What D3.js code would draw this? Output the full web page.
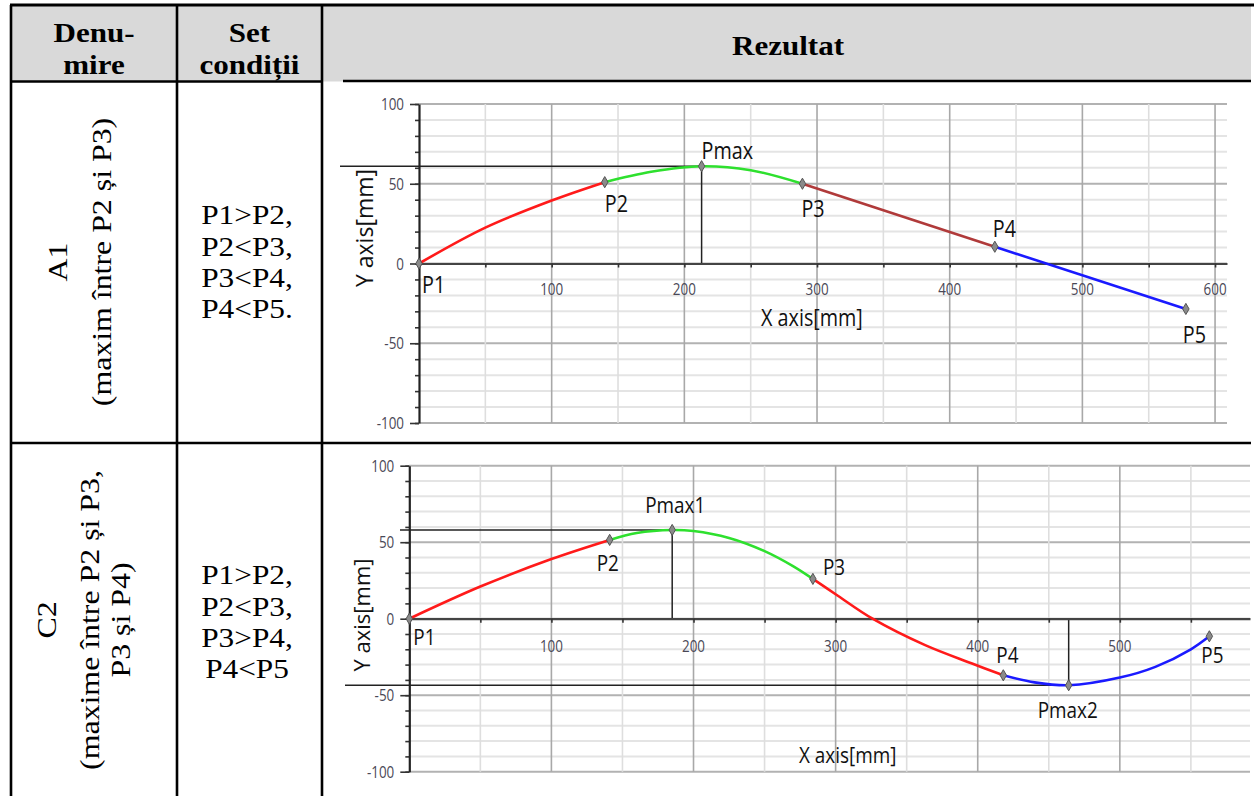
<!DOCTYPE html>
<html><head><meta charset="utf-8">
<script src="https://cdn.jsdelivr.net/npm/d3@7"></script>
<style>html,body{margin:0;padding:0;background:#fff;}svg{display:block}</style>
</head><body>
<svg id="c" width="1254" height="796"></svg>
<script>
// ---------------- data ----------------
const headerCol1 = ["Denu-", "mire"];
const headerCol2 = ["Set", "condiții"];
const headerCol3 = ["Rezultat"];
const rowNames = [["A1", "(maxim între P2 și P3)"], ["C2", "(maxime între P2 și P3,", "P3 și P4)"]];
const rowConditions = [["P1>P2,", "P2<P3,", "P3<P4,", "P4<P5."], ["P1>P2,", "P2<P3,", "P3>P4,", "P4<P5"]];

const yTickLabels = [-100, -50, 0, 50, 100];
const a1XTickLabels = [100, 200, 300, 400, 500, 600];
const c2XTickLabels = [100, 200, 300, 400, 500];
const xAxisTitle = "X axis[mm]";
const yAxisTitle = "Y axis[mm]";

// chart A1 segments [x, y]
const a1Red = [[0, 0], [50, 22.5], [100, 39.5], [140, 51]];
const a1Green = [[140, 51], [175, 57.5], [213, 61], [250, 58.5], [289, 50]];
const a1Brown = [[289, 50], [434, 10.5]];
const a1Blue = [[434, 10.5], [578, -28.5]];
const a1PointNames = ["P1", "P2", "Pmax", "P3", "P4", "P5"];
const a1PointX = [0, 140, 213, 289, 434, 578];
const a1PointY = [0, 51, 61, 50, 10.5, -28.5];

// chart C2 segments [x, y]
const c2Red1 = [[0, 0], [50, 21], [100, 39], [141, 51.5]];
const c2Green = [[141, 51.5], [160, 56], [185, 58], [200, 57.3], [225, 52.8], [250, 44.2], [270, 34.4], [284, 26]];
const c2Red2 = [[284, 26], [300, 16], [326, 0], [363, -17.3], [396, -29.3], [418, -37]];
const c2Blue = [[418, -37], [440, -41.6], [464, -43.5], [500, -38.5], [525, -31.5], [550, -20], [563, -11.5]];
const c2PointNames = ["P1", "P2", "Pmax1", "P3", "P4", "Pmax2", "P5"];
const c2PointX = [0, 141, 185, 284, 418, 464, 563];
const c2PointY = [0, 51.5, 58, 26, -37, -43.5, -11.5];

// ---------------- layout / style ----------------
const svg = d3.select("#c");
const SERIF = "'Liberation Serif','Times New Roman',serif";
const SANS = "'Open Sans','Noto Sans',sans-serif";
const C = { red: "#ff1a1a", green: "#2ee02e", brown: "#b03a3a", blue: "#1a1aff" };

function txt(g, s, x, y, o) {
  return g.append("text").text(s)
    .attr("transform", `translate(${x},${y})` + (o.rot ? ` rotate(${o.rot})` : "") + ` scale(${o.sx || 1},1)`)
    .attr("font-family", o.family).attr("font-size", o.size)
    .attr("font-weight", o.weight || "normal")
    .attr("text-anchor", o.anchor || "start")
    .attr("fill", o.fill || "#000");
}

// ---------------- table ----------------
const T = { left: 11, c1: 177, c2: 322, right: 1251, top: 5, head: 81.5, row: 443, bottom: 796 };
svg.append("rect").attr("x", T.left).attr("y", T.top).attr("width", T.right - T.left).attr("height", T.head - T.top).attr("fill", "#d9d9d9");

const serifH = { family: SERIF, size: 27, sx: 1.15, weight: "bold", anchor: "middle" };
const cx1 = (T.left + T.c1) / 2, cx2 = (T.c1 + T.c2) / 2;
txt(svg, headerCol1[0], cx1, 42, serifH);
txt(svg, headerCol1[1], cx1, 74, serifH);
txt(svg, headerCol2[0], cx2, 42, serifH);
txt(svg, headerCol2[1], cx2, 74, serifH);
txt(svg, headerCol3[0], 788, 55, serifH);

const serifN = { family: SERIF, size: 27, sx: 1.16, anchor: "middle" };
const condBase = [[224, 256, 287, 318], [584, 616, 647, 678]];
rowConditions.forEach((lines, r) => lines.forEach((s, i) => txt(svg, s, 247, condBase[r][i], serifN)));

const nameBase = [[67, 111], [56, 99, 130]];
const nameCy = [262, 620];
rowNames.forEach((lines, r) => lines.forEach((s, i) =>
  txt(svg, s, nameBase[r][i], nameCy[r], Object.assign({ rot: -90 }, serifN, { sx: 1.18 }))));

// ---------------- charts ----------------
function drawChart(cfg) {
  const g = svg.append("g");
  const x = d3.scaleLinear().domain([0, cfg.xMax]).range([cfg.x0, cfg.x1]);
  const y = d3.scaleLinear().domain([-100, 100]).range([cfg.yBot, cfg.yTop]);
  const xr = [x(0), x(cfg.xMax)];
  // horizontal grid
  d3.range(-100, 101, 10).forEach(v => {
    const major = v % 50 === 0;
    g.append("line").attr("x1", xr[0]).attr("x2", xr[1]).attr("y1", y(v)).attr("y2", y(v))
      .attr("stroke", major ? "#b2b2b2" : "#e4e4e4").attr("stroke-width", 2);
  });
  // vertical grid
  d3.range(50, cfg.xMax, 50).forEach(v => {
    const major = v % 100 === 0;
    g.append("line").attr("x1", x(v)).attr("x2", x(v)).attr("y1", y(100)).attr("y2", y(-100))
      .attr("stroke", major ? "#a8a8a8" : "#dedede").attr("stroke-width", 1.6);
  });
  // reference lines to maxima
  cfg.refs.forEach(r => {
    g.append("line").attr("x1", r.hx).attr("x2", x(r.x)).attr("y1", y(r.y)).attr("y2", y(r.y))
      .attr("stroke", "#222").attr("stroke-width", 1.5);
    g.append("line").attr("x1", x(r.x)).attr("x2", x(r.x)).attr("y1", y(0)).attr("y2", y(r.y))
      .attr("stroke", "#222").attr("stroke-width", 1.5);
  });
  // axes
  const ya = g.append("g").attr("transform", `translate(${x(0)},0)`);
  ya.call(d3.axisLeft(y).tickValues(d3.range(-100, 101, 10)).tickSize(4).tickFormat(""));
  ya.call(g2 => g2.selectAll(".domain").remove());
  const ya2 = g.append("g").attr("transform", `translate(${x(0)},0)`);
  ya2.call(d3.axisLeft(y).tickValues(yTickLabels).tickSize(9).tickFormat("").tickSizeOuter(0));
  g.selectAll(".tick line").attr("stroke", "#333").attr("stroke-width", 1.6);
  ya2.select(".domain").attr("stroke", "#222").attr("stroke-width", 2.2);
  const xa = g.append("g").attr("transform", `translate(0,${y(0)})`);
  xa.call(d3.axisBottom(x).tickValues(d3.range(50, cfg.xMax, 50)).tickSize(4).tickFormat("").tickSizeOuter(0));
  xa.selectAll(".tick line").attr("stroke", "#333").attr("stroke-width", 1.6);
  xa.select(".domain").attr("stroke", "#444").attr("stroke-width", 2.2);
  // tick labels
  const tk = { family: SANS, size: 16, sx: 0.84, fill: "#4a4856" };
  yTickLabels.forEach(v => txt(g, v, x(0) - 15, y(v) + 6, Object.assign({ anchor: "end" }, tk)));
  cfg.xTicks.forEach(v => txt(g, v, x(v), y(0) + cfg.xLabDy, Object.assign({ anchor: "middle" }, tk)));
  // curves
  const line = d3.line().x(d => x(d[0])).y(d => y(d[1])).curve(d3.curveCatmullRom.alpha(0.5));
  cfg.segs.forEach(s => g.append("path").attr("d", line(s.data)).attr("fill", "none")
    .attr("stroke", s.color).attr("stroke-width", 2.6).attr("stroke-linejoin", "round"));
  // markers + labels
  const sym = d3.symbol().type(d3.symbolDiamond).size(36);
  const lab = { family: SANS, size: cfg.labSize, sx: 0.86, fill: "#111" };
  cfg.names.forEach((n, i) => {
    const px = x(cfg.px[i]), py = y(cfg.py[i]);
    g.append("path").attr("d", sym()).attr("transform", `translate(${px},${py})`)
      .attr("fill", "#8a8a8a").attr("stroke", "#555").attr("stroke-width", 1);
    const off = cfg.labOff[i];
    txt(g, n, px + off[0], py + off[1], lab);
  });
  // axis titles
  txt(g, xAxisTitle, cfg.xTitle[0], cfg.xTitle[1], lab);
  txt(g, yAxisTitle, cfg.yTitle[0], cfg.yTitle[1], Object.assign({}, lab, { rot: -90, sx: 1, anchor: "middle" }));
}

drawChart({
  xMax: 609, x0: 419, x1: 1227, yTop: 104, yBot: 423, xTicks: a1XTickLabels, xLabDy: 31.5, labSize: 23,
  segs: [{ data: a1Red, color: C.red }, { data: a1Green, color: C.green }, { data: a1Brown, color: C.brown }, { data: a1Blue, color: C.blue }],
  names: a1PointNames, px: a1PointX, py: a1PointY,
  labOff: [[3, 29.5], [0, 30], [0, -7], [-1, 33], [-2, -10], [-3, 34]],
  refs: [{ x: a1PointX[2], y: a1PointY[2], hx: 340 }],
  xTitle: [761, 326], yTitle: [373, 228]
});
drawChart({
  xMax: 591.6, x0: 409.3, x1: 1250, yTop: 465.7, yBot: 771.7, xTicks: c2XTickLabels, xLabDy: 33.5, labSize: 22,
  segs: [{ data: c2Red1, color: C.red }, { data: c2Green, color: C.green }, { data: c2Red2, color: C.red }, { data: c2Blue, color: C.blue }],
  names: c2PointNames, px: c2PointX, py: c2PointY,
  labOff: [[4, 26.5], [-13, 31], [-27, -17], [10, -4], [-7, -12], [-31, 33], [-8, 27]],
  refs: [{ x: c2PointX[2], y: c2PointY[2], hx: 400 }, { x: c2PointX[5], y: c2PointY[5], hx: 345 }],
  xTitle: [799, 763], yTitle: [370, 615]
});

// table borders (on top)
const bl = (x1, y1, x2, y2, w) => svg.append("line").attr("x1", x1).attr("y1", y1).attr("x2", x2).attr("y2", y2)
  .attr("stroke", "#000").attr("stroke-width", w || 2.6);
bl(T.left - 1, T.top, T.right + 3, T.top, 3);
bl(T.left, T.top, T.left, T.bottom);
bl(T.c1, T.top, T.c1, T.bottom);
bl(T.c2, T.top, T.c2, T.bottom);
bl(T.left, T.head, T.c2, T.head);
bl(343, T.head - 0.5, T.right, T.head - 0.5);
bl(T.left, T.row, T.right, T.row);
</script>
</body></html>
